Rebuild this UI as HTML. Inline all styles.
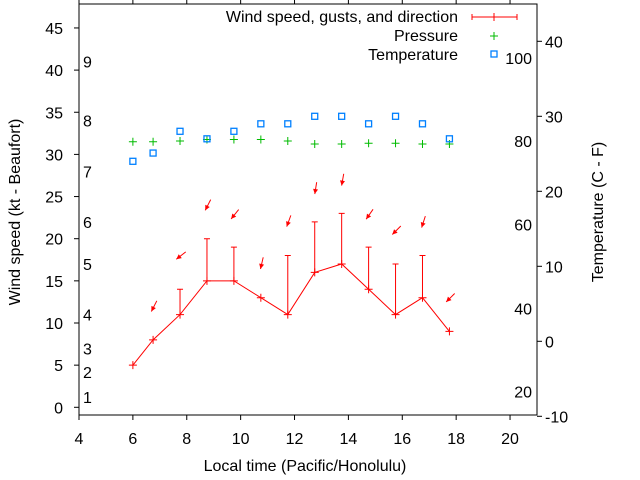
<!DOCTYPE html>
<html><head><meta charset="utf-8"><style>
html,body{margin:0;padding:0;background:#fff;}
svg{display:block;font-family:"Liberation Sans",sans-serif;}
</style></head><body>
<svg id="chart" width="640" height="480" viewBox="0 0 640 480" xmlns="http://www.w3.org/2000/svg">
<g id="g-axes"></g>
<g id="g-series"></g>
<g>
<text x="458" y="22" text-anchor="end" font-size="16">Wind speed, gusts, and direction</text>
<g stroke="#ff0000" stroke-width="1">
<line x1="472" y1="17" x2="517" y2="17"/><line x1="472" y1="14" x2="472" y2="20"/><line x1="517" y1="14" x2="517" y2="20"/><line x1="494" y1="13" x2="494" y2="21"/></g>
<text x="458" y="41" text-anchor="end" font-size="16">Pressure</text>
<g stroke="#00bb00"><line x1="490" y1="36" x2="498" y2="36"/><line x1="494" y1="32" x2="494" y2="40"/></g>
<text x="458" y="60" text-anchor="end" font-size="16">Temperature</text>
<rect x="491" y="51" width="6" height="6" fill="none" stroke="#0080ff" stroke-width="1.3"/>
</g>
<text x="305" y="471" text-anchor="middle" font-size="16">Local time (Pacific/Honolulu)</text>
<text transform="translate(20,212) rotate(-90)" text-anchor="middle" font-size="16">Wind speed (kt - Beaufort)</text>
<text transform="translate(603,212) rotate(-90)" text-anchor="middle" font-size="16">Temperature (C - F)</text>
</svg>
<script>
const times = [6, 6.75, 7.75, 8.75, 9.75, 10.75, 11.75, 12.75, 13.75, 14.75, 15.75, 16.75, 17.75];
const windKt = [5, 8, 11, 15, 15, 13, 11, 16, 17, 14, 11, 13, 9];
const gustKt = [null, null, 14, 20, 19, null, 18, 22, 23, 19, 17, 18, null];
const arrowTimes = [6.75, 7.75, 8.75, 9.75, 10.75, 11.75, 12.75, 13.75, 14.75, 15.75, 16.75, 17.75];
const arrowY = [12, 18, 24, 22.9, 17.1, 22.1, 26, 27, 22.9, 21, 22, 13];
const windDir = [27, 52, 27, 39, 13, 20, 9, 10, 35, 45, 18, 45];
const tempC = [24, 25.1, 28, 27, 28, 29, 29, 30, 30, 29, 30, 29, 27];
const pressure = [26.6, 26.6, 26.7, 26.9, 26.9, 26.9, 26.7, 26.3, 26.3, 26.4, 26.4, 26.3, 26.3];
const xTicks = [4, 6, 8, 10, 12, 14, 16, 18, 20];
const yTicks = [0, 5, 10, 15, 20, 25, 30, 35, 40, 45];
const y2Ticks = [-10, 0, 10, 20, 30, 40];
const beaufortLabels = ["1","2","3","4","5","6","7","8","9"];
const beaufortKt = [1.2, 4.2, 7.0, 11.0, 17.0, 22.0, 28.0, 34.0, 41.0];
const fahrLabels = ["20","40","60","80","100"];
const fahrC = [-6.7, 4.4, 15.6, 26.7, 37.8];

const L=79,R=537,T=4,B=415;
const X=t=>79+(t-4)*26.94;
const Y=v=>407.3-v*8.43;
const Y2=c=>341.3-c*7.5;
const NS="http://www.w3.org/2000/svg";
function mk(tag,attrs,parent){const e=document.createElementNS(NS,tag);for(const k in attrs)e.setAttribute(k,attrs[k]);parent.appendChild(e);return e;}
const ax=document.getElementById('g-axes'), sr=document.getElementById('g-series');

let f=mk('rect',{x:L,y:T,width:R-L,height:B-T,fill:'none',stroke:'#000','stroke-width':1},ax);


xTicks.forEach(t=>{
  const x=X(t);
  let l=mk('line',{x1:x,y1:B,x2:x,y2:B+5,stroke:'#000'},ax);
  
  
  let l2=mk('line',{x1:x,y1:T,x2:x,y2:T-5,stroke:'#000'},ax);
  
  
  let tx=mk('text',{x:x,y:444,'text-anchor':'middle','font-size':16},ax);tx.textContent=t;
  
  
});
yTicks.forEach(v=>{
  const y=Y(v);
  let l=mk('line',{x1:L-5,y1:y,x2:L,y2:y,stroke:'#000'},ax);
  
  
  let tx=mk('text',{x:63,y:y+6,'text-anchor':'end','font-size':16},ax);tx.textContent=v;
  
  
});
y2Ticks.forEach(v=>{
  const y=Y2(v);
  let l=mk('line',{x1:R,y1:y,x2:R+5,y2:y,stroke:'#000'},ax);
  
  
  let tx=mk('text',{x:545,y:y+6,'font-size':16},ax);tx.textContent=v;
  
  
});
beaufortLabels.forEach((s,i)=>{
  let tx=mk('text',{x:83,y:Y(beaufortKt[i])+6,'font-size':16},ax);tx.textContent=s;
  
  
});
fahrLabels.forEach((s,i)=>{
  let tx=mk('text',{x:532,y:Y2(fahrC[i])+6,'text-anchor':'end','font-size':16},ax);tx.textContent=s;
  
  
});

times.forEach((t,i)=>{
  if(gustKt[i]==null)return;
  const x=X(t);
  let g=mk('path',{d:`M${x},${Y(windKt[i])}V${Y(gustKt[i])}M${x-3},${Y(gustKt[i])}H${x+3}`,stroke:'#ff0000',fill:'none'},sr);
  
  
});
let wl=mk('polyline',{points:times.map((t,i)=>X(t)+','+Y(windKt[i])).join(' '),fill:'none',stroke:'#ff0000'},sr);


times.forEach((t,i)=>{
  const x=X(t),y=Y(windKt[i]);
  let p=mk('path',{d:`M${x-4},${y}H${x+4}M${x},${y-4}V${y+4}`,stroke:'#ff0000'},sr);
  
  
});
arrowTimes.forEach((t,i)=>{
  const cx=X(t)+1,cy=Y(arrowY[i]);
  const a=windDir[i]*Math.PI/180, len=12;
  const ux=Math.sin(a), uy=-Math.cos(a);
  const tx=cx+ux*len/2, ty=cy+uy*len/2, hx=cx-ux*len/2, hy=cy-uy*len/2;
  const bx=hx+ux*5, by=hy+uy*5, px=-uy*2.5, py=ux*2.5;
  let g=mk('g',{},sr);
  
  
  mk('line',{x1:tx,y1:ty,x2:hx,y2:hy,stroke:'#ff0000'},g);
  mk('polygon',{points:`${hx},${hy} ${bx+px},${by+py} ${bx-px},${by-py}`,fill:'#ff0000'},g);
});
times.forEach((t,i)=>{
  const x=X(t),y=Y2(pressure[i]);
  let p=mk('path',{d:`M${x-4},${y}H${x+4}M${x},${y-4}V${y+4}`,stroke:'#00bb00'},sr);
  
  
});
times.forEach((t,i)=>{
  const x=X(t),y=Y2(tempC[i]);
  let r=mk('rect',{x:x-3,y:y-3,width:6,height:6,fill:'none',stroke:'#0080ff','stroke-width':1.3},sr);
  
  
});
</script>
</body></html>
